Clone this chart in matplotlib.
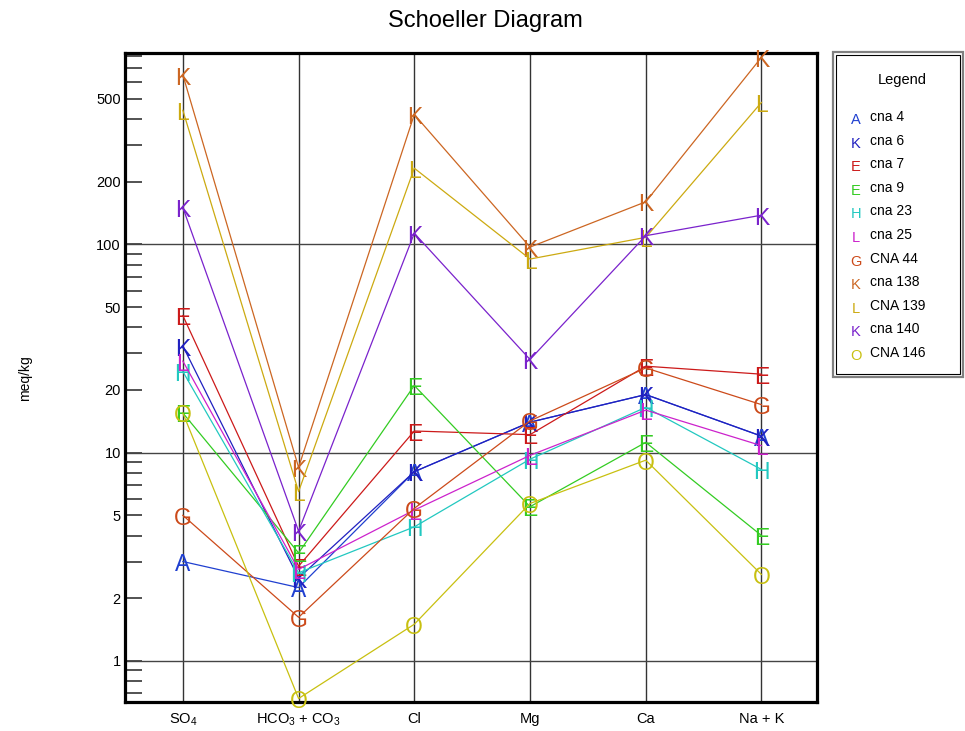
import matplotlib
matplotlib.use('Agg')
import matplotlib.pyplot as plt
from matplotlib.patches import Rectangle
from matplotlib.ticker import NullFormatter
from matplotlib.transforms import offset_copy

plt.rcParams['font.family'] = ['Liberation Sans', 'DejaVu Sans']
plt.rcParams['mathtext.fontset'] = 'custom'
plt.rcParams['mathtext.rm'] = 'Liberation Sans'
plt.rcParams['mathtext.it'] = 'Liberation Sans:italic'
plt.rcParams['mathtext.default'] = 'regular'

# categories on the x axis
ions = [r'SO$_4$', r'HCO$_3$ + CO$_3$', 'Cl', 'Mg', 'Ca', 'Na + K']

# samples (legend order)
names = ['cna 4', 'cna 6', 'cna 7', 'cna 9', 'cna 23', 'cna 25',
         'CNA 44', 'cna 138', 'CNA 139', 'cna 140', 'CNA 146']
letters = ['A', 'K', 'E', 'E', 'H', 'L', 'G', 'K', 'L', 'K', 'O']
colors = ['#2040d0', '#2020c0', '#cc1a1a', '#33cc22', '#22c8c0', '#cc22cc',
          '#cc4a1a', '#cc6622', '#ccaa11', '#7a22cc', '#c8c010']

# concentrations in meq/kg for SO4, HCO3+CO3, Cl, Mg, Ca, Na+K
cna4 = [3.0, 2.25, 8.1, 14.0, 19.0, 12.0]
cna6 = [32.5, 2.5, 8.1, 14.0, 19.0, 12.0]
cna7 = [45.5, 2.85, 12.7, 12.2, 26.0, 23.8]
cna9 = [15.5, 3.3, 21.0, 5.5, 11.2, 4.0]
cna23 = [24.5, 2.65, 4.4, 9.3, 16.5, 8.3]
cna25 = [27.5, 2.75, 5.3, 9.7, 16.0, 10.8]
cna44 = [5.0, 1.62, 5.4, 14.2, 25.5, 17.0]
cna138 = [650, 8.5, 420, 97, 160, 790]
cna139 = [440, 6.5, 232, 85, 108, 480]
cna140 = [150, 4.2, 113, 28, 110, 138]
cna146 = [15.5, 0.66, 1.5, 5.7, 9.2, 2.6]
series = [cna4, cna6, cna7, cna9, cna23, cna25, cna44, cna138, cna139, cna140, cna146]

major = [1, 2, 5, 10, 20, 50, 100, 200, 500]
minor = [0.7, 0.8, 0.9, 3, 4, 6, 7, 8, 9, 30, 40, 60, 70, 80, 90,
         300, 400, 600, 700, 800]

W, H = 965, 731
fig = plt.figure(figsize=(W / 100, H / 100), dpi=100)
ax = fig.add_axes([125 / W, 1 - 702 / H, (817 - 125) / W, (702 - 53) / H])
ax.set_yscale('log')

x = list(range(len(ions)))
for xi in x:
    ax.axvline(xi, color='#333333', lw=1, zorder=1)
for yv in [1, 10, 100]:
    ax.axhline(yv, color='#444444', lw=1, zorder=1)

# letters sit a little below the line vertices, as in the original
letter_tr = offset_copy(ax.transData, fig=fig, x=0, y=-3, units='dots')
for i, (vals, let, col) in enumerate(zip(series, letters, colors)):
    ax.plot(x, vals, color=col, lw=0.9, zorder=3 + i * 0.1)
    for xi, v in zip(x, vals):
        ax.text(xi, v, let, color=col, fontsize=16.5, ha='center', va='center',
                transform=letter_tr, zorder=3.05 + i * 0.1)

ax.set_xlim(-0.5, 5.48)
ax.set_ylim(0.635, 829)
ax.set_xticks(x, ions)
ax.set_yticks(major, [str(m) for m in major])
ax.set_yticks(minor, minor=True)
ax.yaxis.set_minor_formatter(NullFormatter())
ax.tick_params(axis='y', which='both', direction='in', length=12.5, width=1.3,
               color='#444444', labelsize=10.5, pad=3, right=False)
ax.tick_params(axis='x', length=0, pad=7, labelsize=10.5)
for s in ax.spines.values():
    s.set_linewidth(2.3)

fig.text(485 / W, 1 - 21 / H, 'Schoeller Diagram', fontsize=17,
         ha='center', va='center')
fig.text(25 / W, 1 - 378 / H, 'meq/kg', rotation=90, fontsize=10,
         ha='center', va='center')

# legend box
fig.add_artist(Rectangle((833 / W, 1 - 377 / H), 130 / W, 325 / H,
                         transform=fig.transFigure, fill=False,
                         ec='#808080', lw=1.6))
fig.add_artist(Rectangle((836 / W, 1 - 374 / H), 124 / W, 319 / H,
                         transform=fig.transFigure, fill=False,
                         ec='black', lw=0.8))
fig.text(902 / W, 1 - 80 / H, 'Legend', fontsize=10.5, ha='center', va='center')
for i, (name, let, col) in enumerate(zip(names, letters, colors)):
    yy = 117 + 23.6 * i
    fig.text(856 / W, 1 - (yy + 3) / H, let, color=col, fontsize=10.5,
             ha='center', va='center')
    fig.text(870 / W, 1 - yy / H, name, fontsize=10, ha='left', va='center')

fig.savefig('out.png', dpi=100)
